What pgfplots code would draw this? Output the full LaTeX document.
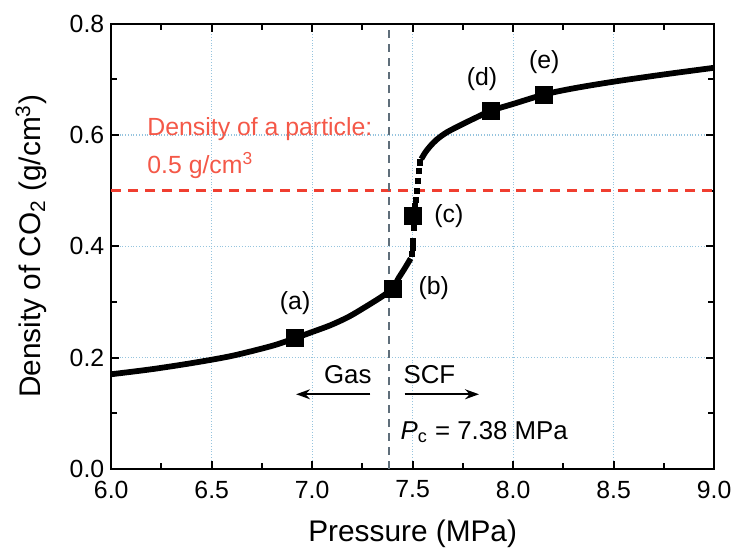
\documentclass[border=0pt]{standalone}
\usepackage{pgfplots}
\pgfplotsset{compat=1.18}
\usepackage{fontspec}
\setmainfont{Liberation Sans}
\usetikzlibrary{arrows.meta}
\definecolor{gridblue}{RGB}{150,196,222}
\definecolor{refred}{RGB}{240,62,48}
\definecolor{txtred}{RGB}{244,88,72}
\definecolor{pcgray}{RGB}{95,110,122}
\begin{document}
\begin{tikzpicture}
\begin{axis}[
  scale only axis,
  width=303.5pt, height=224pt,
  xmin=6.0, xmax=9.0, ymin=0.0, ymax=0.8,
  xtick={6.0,6.5,...,9.0}, ytick={0.0,0.2,...,0.8},
  minor x tick num=1, minor y tick num=1,
  tick align=inside,
  major tick length=4pt, minor tick length=3pt,
  tick style={black, line width=1pt},
  axis line style={line width=1.1pt},
  xmajorgrids, ymajorgrids,
  major grid style={gridblue, densely dotted, line width=0.6pt},
  /pgf/number format/assume math mode=true,
  tick label style={font=\fontsize{12.5}{14}\selectfont},
  xticklabel style={yshift=-2.5pt, /pgf/number format/.cd, fixed, fixed zerofill, precision=1},
  yticklabel style={/pgf/number format/.cd, fixed, fixed zerofill, precision=1},
  xlabel={Pressure (MPa)},
  ylabel={Density of CO\textsubscript{2} (g/cm\textsuperscript{3})},
  label style={font=\fontsize{15}{18}\selectfont},
  xlabel style={at={(axis description cs:0.5,-0.145)}, anchor=center},
  ylabel style={at={(axis description cs:-0.133,0.5)}, anchor=center},
  clip=false,
]
% reference lines
\addplot[refred, line width=1.5pt, dash pattern=on 5pt off 3.5pt] coordinates {(6.0,0.5) (9.0,0.5)};
\addplot[pcgray, line width=1pt, dash pattern=on 4pt off 3pt] coordinates {(7.38,0.0) (7.38,0.8)};
% curve (gas side)
\addplot[black, line width=2.9pt, smooth, tension=0.5, line join=round] coordinates {
(6.00,0.170) (6.20,0.179) (6.40,0.190) (6.60,0.203)
(6.80,0.221) (6.90,0.233) (7.00,0.246) (7.09,0.258)
(7.18,0.273) (7.26,0.290) (7.34,0.308) (7.40,0.323)};
\addplot[black, line width=2.9pt, line join=round] coordinates {
(7.40,0.323) (7.43,0.343) (7.46,0.360) (7.49,0.378)};
% steep section (dots)
\addplot[only marks, mark=square*, mark size=1.3pt, black] coordinates {
(7.496,0.386) (7.499,0.398) (7.502,0.410) (7.506,0.434) (7.510,0.472)
(7.515,0.484) (7.520,0.500) (7.525,0.518) (7.530,0.536) (7.536,0.551)};
% curve (SCF side)
\addplot[black, line width=2.9pt, smooth, tension=0.5, line join=round] coordinates {
(7.543,0.557) (7.563,0.569) (7.587,0.580) (7.62,0.592) (7.67,0.605) (7.75,0.620)
(7.83,0.634) (7.89,0.644) (8.00,0.656) (8.155,0.673) (8.30,0.684)
(8.50,0.696) (8.75,0.709) (9.00,0.721)};
% labelled points
\addplot[only marks, mark=square*, mark size=4.3pt, black] coordinates {
(6.915,0.236) (7.40,0.323) (7.50,0.454) (7.888,0.644) (8.155,0.673)};
% annotations
\node[font=\fontsize{12.5}{14}\selectfont] at (axis cs:6.915,0.298) {(a)};
\node[font=\fontsize{12.5}{14}\selectfont] at (axis cs:7.605,0.325) {(b)};
\node[font=\fontsize{12.5}{14}\selectfont] at (axis cs:7.68,0.454) {(c)};
\node[font=\fontsize{12.5}{14}\selectfont] at (axis cs:7.845,0.700) {(d)};
\node[font=\fontsize{12.5}{14}\selectfont] at (axis cs:8.155,0.732) {(e)};
\node[font=\fontsize{12.5}{14}\selectfont, anchor=west, txtred] at (axis cs:6.145,0.611) {Density of a particle:};
\node[font=\fontsize{12.5}{14}\selectfont, anchor=west, txtred] at (axis cs:6.145,0.545) {0.5 g/cm\textsuperscript{3}};
\node[font=\fontsize{13}{14}\selectfont] at (axis cs:7.177,0.170) {Gas};
\node[font=\fontsize{13}{14}\selectfont] at (axis cs:7.583,0.170) {SCF};
\draw[line width=1pt, -{Stealth[length=7pt,width=5pt]}] (axis cs:7.29,0.134) -- (axis cs:6.92,0.134);
\draw[line width=1pt, -{Stealth[length=7pt,width=5pt]}] (axis cs:7.46,0.134) -- (axis cs:7.83,0.134);
\node[font=\fontsize{13}{14}\selectfont, anchor=west] at (axis cs:7.405,0.066) {\textit{P}\textsubscript{c} = 7.38 MPa};
\end{axis}
\path[use as bounding box] ([shift={(-56pt,-42pt)}]current axis.south west) rectangle ([shift={(9.5pt,12pt)}]current axis.north east);
\end{tikzpicture}
\end{document}
